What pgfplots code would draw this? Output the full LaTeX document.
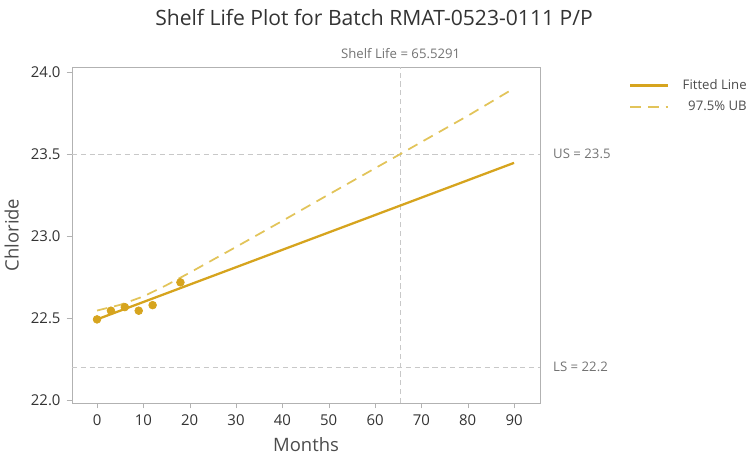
\documentclass[border=0pt]{standalone}
\usepackage{pgfplots}
\pgfplotsset{compat=1.18}
\usepackage{fontspec}
\setmainfont{Open Sans}
\definecolor{gold}{RGB}{214,164,30}
\definecolor{paleg}{RGB}{226,196,90}
\definecolor{refgray}{RGB}{200,200,200}

\begin{document}
\begin{tikzpicture}
\begin{axis}[
  scale only axis,
  width=9.36cm, height=6.72cm,
  xmin=-5.4, xmax=95.6, ymin=21.98, ymax=24.03,
  xtick={0,10,20,30,40,50,60,70,80,90},
  ytick={22,22.5,23,23.5,24},
  yticklabel style={/pgf/number format/.cd,fixed,fixed zerofill,precision=1},
  /pgf/number format/assume math mode=true,
  ticklabel style={font=\fontsize{8.5}{10}\selectfont, text=black!80},
  axis line style={gray!60},
  tick style={gray!60},
  tick align=outside, xtick pos=bottom, ytick pos=left,
  major tick length=3pt,
  xlabel={Months}, ylabel={Chloride},
  label style={font=\fontsize{10.5}{12}\selectfont, text=black!70},
  legend style={at={(1.19,0.975)}, anchor=north west, draw=none, fill=none,
    inner sep=0pt, font=\fontsize{7.5}{9}\selectfont, text=black!70,
    row sep=1pt, column sep=5.5pt},
  legend cell align=right,
  legend image code/.code={\draw[#1] (0cm,0cm) -- (0.76cm,0cm);},
  clip mode=individual,
]
% reference lines
\addplot[refgray, densely dashed, forget plot] coordinates {(-5.4,23.5) (95.6,23.5)};
\addplot[refgray, densely dashed, forget plot] coordinates {(-5.4,22.2) (95.6,22.2)};
\addplot[refgray, densely dashed, forget plot] coordinates {(65.5291,21.98) (65.5291,24.03)};
% fitted line and upper bound
\addplot[gold, line width=1.3pt] coordinates {(0,22.490) (90,23.445)};
\addlegendentry{Fitted Line}
\addplot[paleg, line width=1pt, dash pattern=on 6pt off 4pt] coordinates {
  (0,22.544) (5,22.579) (10,22.630) (15,22.699) (20,22.775) (30,22.932)
  (40,23.091) (50,23.252) (60,23.412) (65.53,23.500) (70,23.572)
  (80,23.732) (90,23.900)};
\addlegendentry{97.5\% UB}
% observations
\addplot[only marks, mark=*, mark size=2.2pt, gold, forget plot] coordinates {
  (0,22.490) (3,22.543) (6,22.565) (9,22.543) (12,22.577) (18,22.716)};
% annotations
\node[anchor=south, font=\fontsize{7.5}{9}\selectfont, text=black!55, yshift=1pt]
  at (axis cs:65.5291,24.03) {Shelf Life = 65.5291};
\node[anchor=west, font=\fontsize{7.5}{9}\selectfont, text=black!55, xshift=4pt]
  at (axis cs:95.6,23.5) {US = 23.5};
\node[anchor=west, font=\fontsize{7.5}{9}\selectfont, text=black!55, xshift=4pt]
  at (axis cs:95.6,22.2) {LS = 22.2};
\end{axis}
\node[font=\fontsize{12}{14}\selectfont, text=black!80]
  at ([xshift=6.04cm,yshift=0.98cm]current axis.north west) {Shelf Life Plot for Batch RMAT-0523-0111 P/P};
\pgfresetboundingbox
\path[use as bounding box] ([xshift=-1.44cm,yshift=-1.22cm]current axis.south west)
  rectangle ([xshift=4.16cm,yshift=1.34cm]current axis.north east);
\end{tikzpicture}
\end{document}
